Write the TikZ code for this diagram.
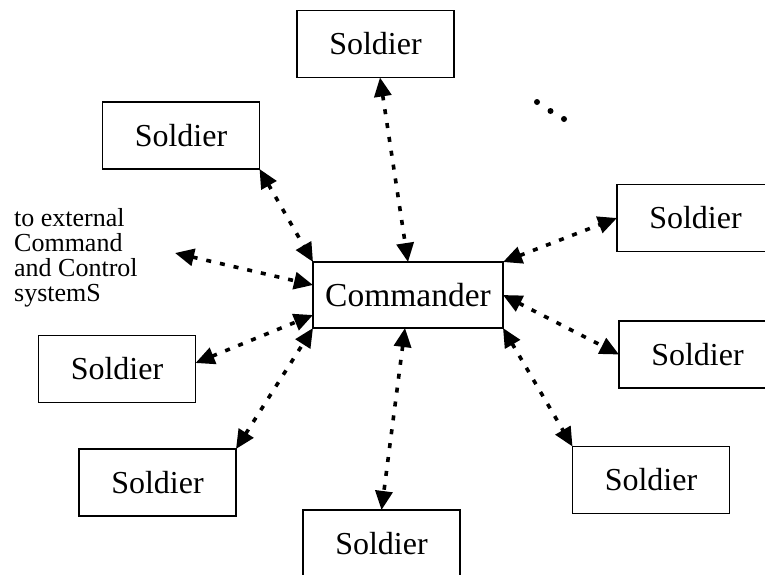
\documentclass[tikz,border=0pt]{standalone}
\usepackage{fontspec}
\setmainfont{Liberation Serif}
\usetikzlibrary{arrows.meta}
\begin{document}
\begin{tikzpicture}[x=1pt,y=-1pt,
  box/.style={draw, line width=1.6pt, inner sep=0pt, outer sep=0pt, minimum width=157pt, minimum height=67pt, font=\fontsize{32}{32}\selectfont},
  cmdbox/.style={draw, line width=1.6pt, inner sep=0pt, outer sep=0pt, minimum width=190pt, minimum height=66pt, font=\fontsize{33.5}{33.5}\selectfont},
  link/.style={line width=3.6pt, dash pattern=on 5pt off 9pt, {Triangle[length=19pt,width=17pt]}-{Triangle[length=19pt,width=17pt]}},
  dotmark/.style={fill=black, draw=none}
]
\useasboundingbox (0,0) rectangle (765,574);
\clip (0,0) rectangle (765,574);
\node[cmdbox] (cmd) at (408,295) {Commander};
\node[box] (top) at (375.5,44) {Soldier};
\node[box] (ul) at (181,135.5) {Soldier};
\node[box] (r1) at (695.5,218) {Soldier};
\node[box] (r2) at (697.5,354.5) {Soldier};
\node[box] (l1) at (117,369) {Soldier};
\node[box] (l2) at (157.5,482.5) {Soldier};
\node[box] (lr) at (651,480) {Soldier};
\node[box] (bot) at (381.5,543.5) {Soldier};
\node[anchor=north west, inner sep=0pt, align=left, font=\fontsize{26}{25}\selectfont] (ext) at (14,208) {to external\\Command\\and Control\\systemS};
\coordinate (extend) at (175,253);
\draw[link] ([xshift=4.5pt]top.south) -- (cmd.north);
\draw[link] (ul.south east) -- (cmd.north west);
\draw[link] (extend) -- ([yshift=10pt]cmd.west);
\draw[link] ([yshift=6pt]l1.east) -- ([yshift=-20pt]cmd.west);
\draw[link] (l2.north east) -- (cmd.south west);
\draw[link] ([xshift=-3pt]cmd.south) -- (bot.north);
\draw[link] (cmd.south east) -- (lr.north west);
\draw[link] (cmd.east) -- (r2.west);
\draw[link] (cmd.north east) -- (r1.west);
\fill[dotmark] (537,102) circle (3pt);
\fill[dotmark] (550.5,111) circle (3pt);
\fill[dotmark] (564,119) circle (3pt);
\end{tikzpicture}
\end{document}
